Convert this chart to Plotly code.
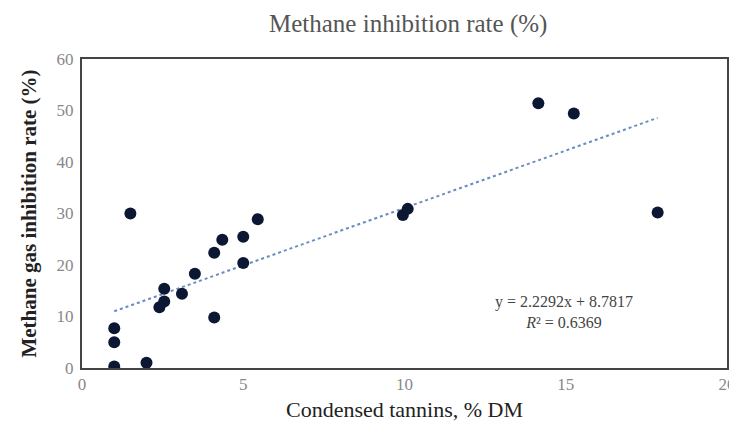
import plotly.graph_objects as go

# Data
tannins = [1.0, 2.0, 1.0, 1.0, 1.5, 2.4, 2.55, 2.55, 3.1, 3.5, 4.1, 4.35, 4.1, 5.0, 5.0, 5.45,
           14.15, 15.25, 9.95, 10.1, 17.85]
inhibition = [0.3, 1.0, 5.0, 7.7, 30.0, 11.8, 12.9, 15.4, 14.4, 18.3, 22.4, 24.9, 9.8, 25.5, 20.4, 28.9,
              51.4, 49.4, 29.7, 30.9, 30.2]

slope = 2.2292
intercept = 8.7817
r2 = 0.6369

x_ticks = [0, 5, 10, 15, 20]
y_ticks = [0, 10, 20, 30, 40, 50, 60]

xmin, xmax = min(tannins), max(tannins)
trend_x = [xmin, xmax]
trend_y = [slope * v + intercept for v in trend_x]

serif = "Liberation Serif, Times New Roman, serif"

fig = go.Figure()
fig.add_trace(go.Scatter(
    x=trend_x, y=trend_y, mode="lines",
    line=dict(color="#6a8cc0", width=2, dash="dot"),
    hoverinfo="skip", showlegend=False))
fig.add_trace(go.Scatter(
    x=tannins, y=inhibition, mode="markers",
    marker=dict(color="#0b1733", size=12, line=dict(width=0)),
    showlegend=False))

fig.add_annotation(
    x=0.858, y=0.18, xref="paper", yref="paper", xanchor="right", yanchor="middle",
    text=f"y = {slope}x + {intercept}<br><i>R</i>² = {r2}",
    showarrow=False, align="center",
    font=dict(family=serif, size=16, color="#444444"))

# the page body adds an 8px offset at left and top
fig.update_layout(
    width=737, height=430,
    margin=dict(l=74, r=18, t=51, b=70, pad=0),
    paper_bgcolor="white", plot_bgcolor="white",
    title=dict(text="Methane inhibition rate (%)", x=0.543, xanchor="center",
               y=0.965, yanchor="middle", yref="container", automargin=False,
               font=dict(family=serif, size=25, color="#555555")),
    xaxis=dict(range=[0, 20], tickvals=x_ticks, showgrid=False, zeroline=False,
               showline=True, linecolor="#444444", linewidth=2, mirror=True,
               ticks="", automargin=False,
               tickfont=dict(family=serif, size=17, color="#888888"),
               title=dict(text="Condensed tannins, % DM", standoff=8,
                          font=dict(family=serif, size=22, color="#222222"))),
    yaxis=dict(range=[0, 60], tickvals=y_ticks, showgrid=False, zeroline=False,
               showline=True, linecolor="#444444", linewidth=2, mirror=True,
               ticks="outside", ticklen=3, tickcolor="rgba(0,0,0,0)", automargin=False,
               tickfont=dict(family=serif, size=17, color="#888888"),
               title=dict(text="<b>Methane gas inhibition rate (%)</b>", standoff=14,
                          font=dict(family=serif, size=21, color="#222222"))),
)

fig.write_html("out.html")
